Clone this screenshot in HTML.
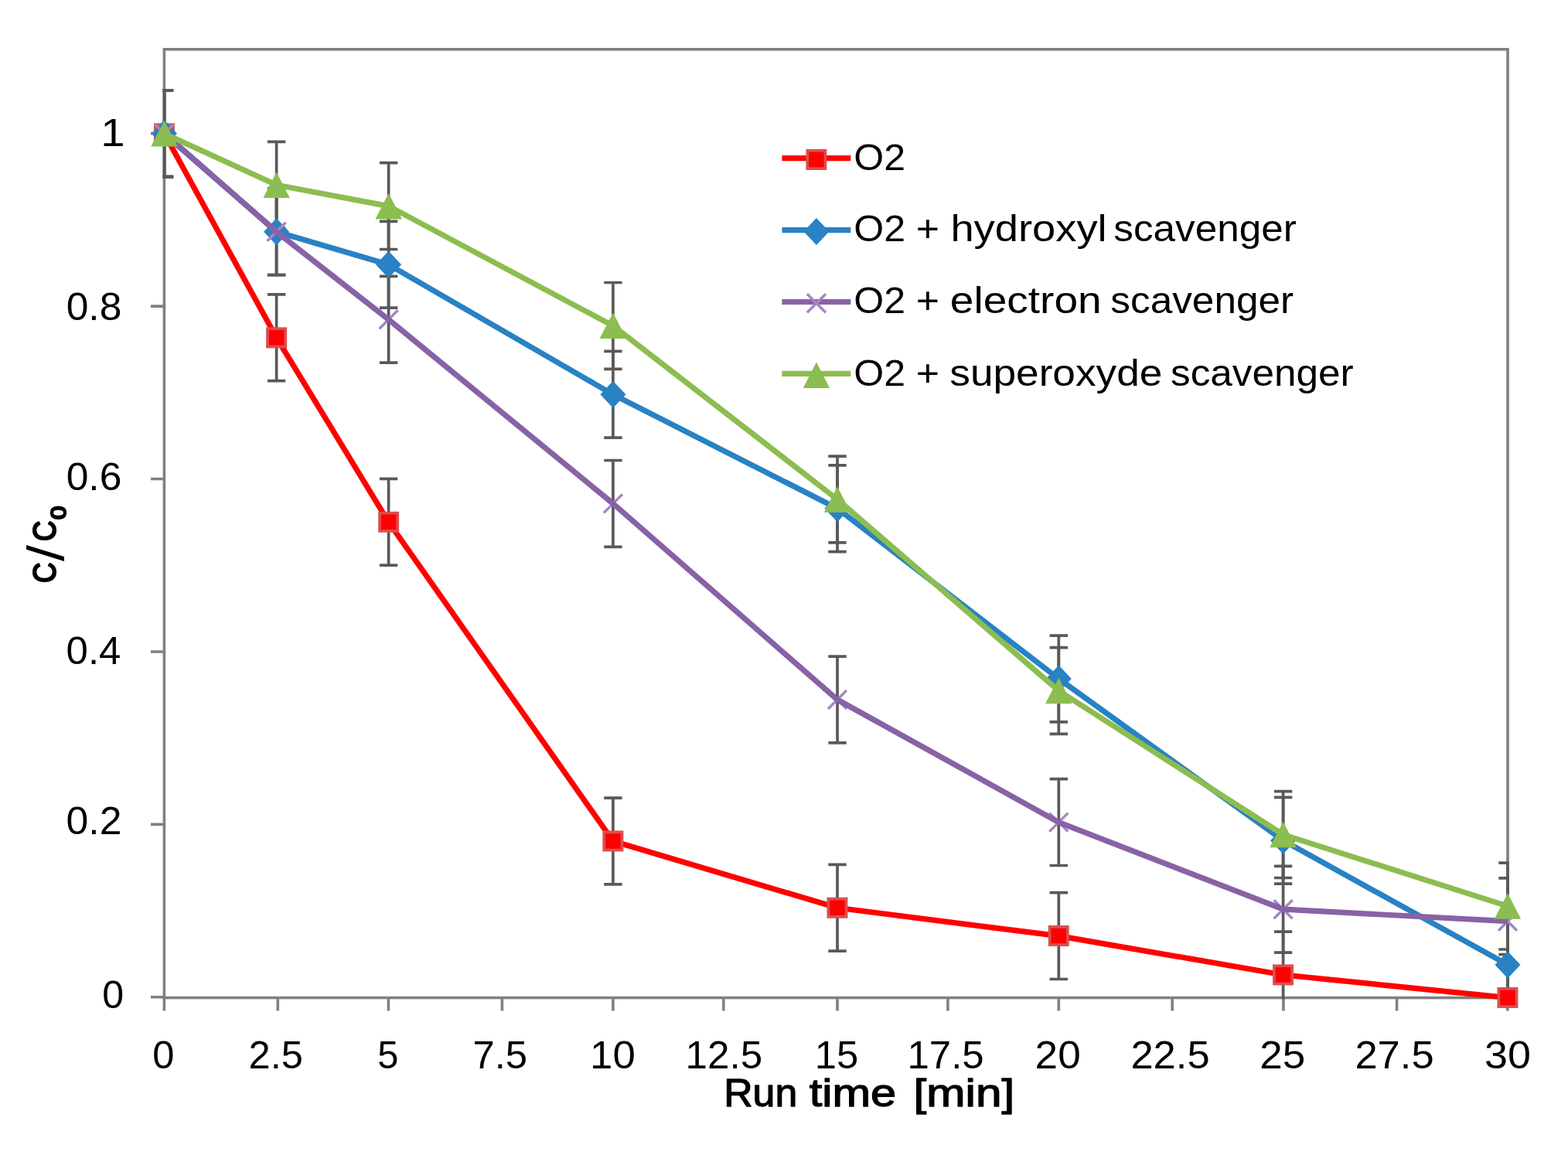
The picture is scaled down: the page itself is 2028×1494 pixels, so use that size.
<!DOCTYPE html><html><head><meta charset="utf-8"><title>C/C0 vs run time</title><style>html,body{margin:0;padding:0;background:#fff;overflow:hidden}svg{display:block}</style></head><body><svg width="2028" height="1494" viewBox="0 0 2028 1494">
<defs><clipPath id="pa"><rect x="210.6" y="62.0" width="1741.3" height="1230.4"/></clipPath></defs>
<rect width="2028" height="1494" fill="#fff"/>
<rect x="212.4" y="63.8" width="1737.6" height="1226.8" fill="none" stroke="#808080" stroke-width="3.6"/>
<path d="M212.4,1290.6V1307.5M359.3,1290.6V1307.5M502.4,1290.6V1307.5M649.4,1290.6V1307.5M792.9,1290.6V1307.5M935.8,1290.6V1307.5M1083.0,1290.6V1307.5M1225.9,1290.6V1307.5M1369.3,1290.6V1307.5M1516.2,1290.6V1307.5M1659.9,1290.6V1307.5M1806.6,1290.6V1307.5M1949.8,1290.6V1307.5M195,1289.8H212.4M195,1066.4H212.4M195,843.0H212.4M195,619.5H212.4M195,396.1H212.4M195,172.6H212.4" stroke="#808080" stroke-width="3.6" fill="none"/>
<path d="M212.5,116.9V228.7M200.8,116.9H224.2M200.8,228.7H224.2M357.6,380.9V492.7M345.9,380.9H369.3M345.9,492.7H369.3M502.6,619.4V731.2M490.9,619.4H514.3M490.9,731.2H514.3M792.9,1032.1V1143.9M781.2,1032.1H804.6M781.2,1143.9H804.6M1083.0,1118.4V1230.2M1071.3,1118.4H1094.7M1071.3,1230.2H1094.7M1369.3,1154.7V1266.5M1357.6,1154.7H1381.0M1357.6,1266.5H1381.0M1659.6,1205.1V1316.9M1647.9,1205.1H1671.3M1647.9,1316.9H1671.3M1950.0,1234.6V1346.4M1938.3,1234.6H1961.7M1938.3,1346.4H1961.7" stroke="#595959" stroke-width="3.7" fill="none" clip-path="url(#pa)"/>
<path d="M212.5,116.9V228.7M200.8,116.9H224.2M200.8,228.7H224.2M357.6,243.9V355.7M345.9,243.9H369.3M345.9,355.7H369.3M502.6,286.3V398.1M490.9,286.3H514.3M490.9,398.1H514.3M792.9,454.4V566.2M781.2,454.4H804.6M781.2,566.2H804.6M1083.0,601.8V713.6M1071.3,601.8H1094.7M1071.3,713.6H1094.7M1369.3,822.1V933.9M1357.6,822.1H1381.0M1357.6,933.9H1381.0M1659.6,1031.3V1143.1M1647.9,1031.3H1671.3M1647.9,1143.1H1671.3M1950.0,1192.0V1303.8M1938.3,1192.0H1961.7M1938.3,1303.8H1961.7" stroke="#595959" stroke-width="3.7" fill="none" clip-path="url(#pa)"/>
<path d="M212.5,116.9V228.7M200.8,116.9H224.2M200.8,228.7H224.2M357.6,243.9V355.7M345.9,243.9H369.3M345.9,355.7H369.3M502.6,357.4V469.2M490.9,357.4H514.3M490.9,469.2H514.3M792.9,595.5V707.3M781.2,595.5H804.6M781.2,707.3H804.6M1083.0,849.1V960.9M1071.3,849.1H1094.7M1071.3,960.9H1094.7M1369.3,1007.7V1119.5M1357.6,1007.7H1381.0M1357.6,1119.5H1381.0M1659.6,1120.3V1232.1M1647.9,1120.3H1671.3M1647.9,1232.1H1671.3M1950.0,1135.8V1247.6M1938.3,1135.8H1961.7M1938.3,1247.6H1961.7" stroke="#595959" stroke-width="3.7" fill="none" clip-path="url(#pa)"/>
<path d="M212.5,116.9V228.7M200.8,116.9H224.2M200.8,228.7H224.2M357.6,183.4V295.2M345.9,183.4H369.3M345.9,295.2H369.3M502.6,210.7V322.5M490.9,210.7H514.3M490.9,322.5H514.3M792.9,365.5V477.3M781.2,365.5H804.6M781.2,477.3H804.6M1083.0,590.1V701.9M1071.3,590.1H1094.7M1071.3,701.9H1094.7M1369.3,837.6V949.4M1357.6,837.6H1381.0M1357.6,949.4H1381.0M1659.6,1023.7V1135.5M1647.9,1023.7H1671.3M1647.9,1135.5H1671.3M1950.0,1116.2V1228.0M1938.3,1116.2H1961.7M1938.3,1228.0H1961.7" stroke="#595959" stroke-width="3.7" fill="none" clip-path="url(#pa)"/>
<polyline points="212.5,172.8 357.6,436.8 502.6,675.3 792.9,1088.0 1083.0,1174.3 1369.3,1210.6 1659.6,1261.0 1950.0,1290.5" fill="none" stroke="#FF0000" stroke-width="7.2" stroke-linejoin="round"/>
<rect x="200.8" y="161.2" width="23.3" height="23.3" fill="#FF0000" stroke="#D95050" stroke-width="3.7"/><rect x="346.0" y="425.2" width="23.3" height="23.3" fill="#FF0000" stroke="#D95050" stroke-width="3.7"/><rect x="491.0" y="663.6" width="23.3" height="23.3" fill="#FF0000" stroke="#D95050" stroke-width="3.7"/><rect x="781.2" y="1076.3" width="23.3" height="23.3" fill="#FF0000" stroke="#D95050" stroke-width="3.7"/><rect x="1071.3" y="1162.6" width="23.3" height="23.3" fill="#FF0000" stroke="#D95050" stroke-width="3.7"/><rect x="1357.6" y="1198.9" width="23.3" height="23.3" fill="#FF0000" stroke="#D95050" stroke-width="3.7"/><rect x="1647.9" y="1249.3" width="23.3" height="23.3" fill="#FF0000" stroke="#D95050" stroke-width="3.7"/><rect x="1938.3" y="1278.8" width="23.3" height="23.3" fill="#FF0000" stroke="#D95050" stroke-width="3.7"/>
<polyline points="212.5,172.8 357.6,299.8 502.6,342.2 792.9,510.3 1083.0,657.7 1369.3,878.0 1659.6,1087.2 1950.0,1247.9" fill="none" stroke="#2882C4" stroke-width="7.2" stroke-linejoin="round"/>
<polygon points="212.5,155.3 229.0,172.8 212.5,190.3 196.0,172.8" fill="#2882C4"/><polygon points="357.6,282.3 374.1,299.8 357.6,317.3 341.1,299.8" fill="#2882C4"/><polygon points="502.6,324.7 519.1,342.2 502.6,359.7 486.1,342.2" fill="#2882C4"/><polygon points="792.9,492.8 809.4,510.3 792.9,527.8 776.4,510.3" fill="#2882C4"/><polygon points="1083.0,640.2 1099.5,657.7 1083.0,675.2 1066.5,657.7" fill="#2882C4"/><polygon points="1369.3,860.5 1385.8,878.0 1369.3,895.5 1352.8,878.0" fill="#2882C4"/><polygon points="1659.6,1069.7 1676.1,1087.2 1659.6,1104.7 1643.1,1087.2" fill="#2882C4"/><polygon points="1950.0,1230.4 1966.5,1247.9 1950.0,1265.4 1933.5,1247.9" fill="#2882C4"/>
<path d="M200.5,160.8L224.5,184.8M224.5,160.8L200.5,184.8" stroke="#A487C0" stroke-width="3.4" fill="none"/><path d="M345.6,287.8L369.6,311.8M369.6,287.8L345.6,311.8" stroke="#A487C0" stroke-width="3.4" fill="none"/><path d="M490.6,401.3L514.6,425.3M514.6,401.3L490.6,425.3" stroke="#A487C0" stroke-width="3.4" fill="none"/><path d="M780.9,639.4L804.9,663.4M804.9,639.4L780.9,663.4" stroke="#A487C0" stroke-width="3.4" fill="none"/><path d="M1071.0,893.0L1095.0,917.0M1095.0,893.0L1071.0,917.0" stroke="#A487C0" stroke-width="3.4" fill="none"/><path d="M1357.3,1051.6L1381.3,1075.6M1381.3,1051.6L1357.3,1075.6" stroke="#A487C0" stroke-width="3.4" fill="none"/><path d="M1647.6,1164.2L1671.6,1188.2M1671.6,1164.2L1647.6,1188.2" stroke="#A487C0" stroke-width="3.4" fill="none"/><path d="M1938.0,1179.7L1962.0,1203.7M1962.0,1179.7L1938.0,1203.7" stroke="#A487C0" stroke-width="3.4" fill="none"/>
<polyline points="212.5,172.8 357.6,299.8 502.6,413.3 792.9,651.4 1083.0,905.0 1369.3,1063.6 1659.6,1176.2 1950.0,1191.7" fill="none" stroke="#8862A6" stroke-width="7.2" stroke-linejoin="round"/>
<polyline points="212.5,172.8 357.6,239.3 502.6,266.6 792.9,421.4 1083.0,646.0 1369.3,893.5 1659.6,1079.6 1950.0,1172.1" fill="none" stroke="#8CBD50" stroke-width="7.2" stroke-linejoin="round"/>
<polygon points="212.5,156.1 229.8,189.6 195.2,189.6" fill="#8CBD50"/><polygon points="357.6,222.6 374.9,256.1 340.4,256.1" fill="#8CBD50"/><polygon points="502.6,249.9 519.9,283.4 485.4,283.4" fill="#8CBD50"/><polygon points="792.9,404.6 810.1,438.1 775.6,438.1" fill="#8CBD50"/><polygon points="1083.0,629.2 1100.2,662.8 1065.8,662.8" fill="#8CBD50"/><polygon points="1369.3,876.8 1386.5,910.2 1352.0,910.2" fill="#8CBD50"/><polygon points="1659.6,1062.8 1676.8,1096.3 1642.3,1096.3" fill="#8CBD50"/><polygon points="1950.0,1155.3 1967.2,1188.8 1932.8,1188.8" fill="#8CBD50"/>
<text x="132.3" y="1303.8" font-family='"Liberation Sans", Arial, sans-serif' font-size="50" textLength="27.9" lengthAdjust="spacingAndGlyphs" fill="#000">0</text>
<text x="85.5" y="1079.2" font-family='"Liberation Sans", Arial, sans-serif' font-size="50" textLength="71.9" lengthAdjust="spacingAndGlyphs" fill="#000">0.2</text>
<text x="85.6" y="858.6" font-family='"Liberation Sans", Arial, sans-serif' font-size="50" textLength="70.8" lengthAdjust="spacingAndGlyphs" fill="#000">0.4</text>
<text x="85.7" y="634.1" font-family='"Liberation Sans", Arial, sans-serif' font-size="50" textLength="71.7" lengthAdjust="spacingAndGlyphs" fill="#000">0.6</text>
<text x="85.7" y="413.6" font-family='"Liberation Sans", Arial, sans-serif' font-size="50" textLength="71.7" lengthAdjust="spacingAndGlyphs" fill="#000">0.8</text>
<text x="130.2" y="189.0" font-family='"Liberation Sans", Arial, sans-serif' font-size="50" textLength="31.4" lengthAdjust="spacingAndGlyphs" fill="#000">1</text>
<text x="197.2" y="1381.5" font-family='"Liberation Sans", Arial, sans-serif' font-size="50" textLength="28.2" lengthAdjust="spacingAndGlyphs" fill="#000">0</text>
<text x="321.5" y="1381.5" font-family='"Liberation Sans", Arial, sans-serif' font-size="50" textLength="70.4" lengthAdjust="spacingAndGlyphs" fill="#000">2.5</text>
<text x="488.3" y="1381.5" font-family='"Liberation Sans", Arial, sans-serif' font-size="50" textLength="27.2" lengthAdjust="spacingAndGlyphs" fill="#000">5</text>
<text x="611.4" y="1381.5" font-family='"Liberation Sans", Arial, sans-serif' font-size="50" textLength="70.7" lengthAdjust="spacingAndGlyphs" fill="#000">7.5</text>
<text x="763.1" y="1381.5" font-family='"Liberation Sans", Arial, sans-serif' font-size="50" textLength="58.6" lengthAdjust="spacingAndGlyphs" fill="#000">10</text>
<text x="886.6" y="1381.5" font-family='"Liberation Sans", Arial, sans-serif' font-size="50" textLength="99.5" lengthAdjust="spacingAndGlyphs" fill="#000">12.5</text>
<text x="1053.7" y="1381.5" font-family='"Liberation Sans", Arial, sans-serif' font-size="50" textLength="56.5" lengthAdjust="spacingAndGlyphs" fill="#000">15</text>
<text x="1173.5" y="1381.5" font-family='"Liberation Sans", Arial, sans-serif' font-size="50" textLength="99.1" lengthAdjust="spacingAndGlyphs" fill="#000">17.5</text>
<text x="1338.6" y="1381.5" font-family='"Liberation Sans", Arial, sans-serif' font-size="50" textLength="59.1" lengthAdjust="spacingAndGlyphs" fill="#000">20</text>
<text x="1462.4" y="1381.5" font-family='"Liberation Sans", Arial, sans-serif' font-size="50" textLength="102.2" lengthAdjust="spacingAndGlyphs" fill="#000">22.5</text>
<text x="1629.2" y="1381.5" font-family='"Liberation Sans", Arial, sans-serif' font-size="50" textLength="59.0" lengthAdjust="spacingAndGlyphs" fill="#000">25</text>
<text x="1752.4" y="1381.5" font-family='"Liberation Sans", Arial, sans-serif' font-size="50" textLength="102.2" lengthAdjust="spacingAndGlyphs" fill="#000">27.5</text>
<text x="1920.1" y="1381.5" font-family='"Liberation Sans", Arial, sans-serif' font-size="50" textLength="59.9" lengthAdjust="spacingAndGlyphs" fill="#000">30</text>
<text x="936.2" y="1430.8" font-family='"Liberation Sans", Arial, sans-serif' font-size="50" textLength="95.0" lengthAdjust="spacingAndGlyphs" fill="#000" stroke="#000" stroke-width="1.3" stroke-linejoin="round">Run</text>
<text x="1046.8" y="1430.8" font-family='"Liberation Sans", Arial, sans-serif' font-size="50" textLength="112.4" lengthAdjust="spacingAndGlyphs" fill="#000" stroke="#000" stroke-width="1.3" stroke-linejoin="round">time</text>
<text x="1181.6" y="1430.8" font-family='"Liberation Sans", Arial, sans-serif' font-size="50" textLength="130.6" lengthAdjust="spacingAndGlyphs" fill="#000" stroke="#000" stroke-width="1.3" stroke-linejoin="round">[min]</text>
<g transform="translate(74.3,754.2) rotate(-90)" fill="#000"><text x="0.1" y="-2.2" font-family='"Liberation Sans", Arial, sans-serif' font-size="42.7" textLength="26.5" lengthAdjust="spacingAndGlyphs" stroke="#000" stroke-width="2.2" stroke-linejoin="round">C</text><text x="28.1" y="7.7" font-family='"Liberation Sans", Arial, sans-serif' font-size="67.1" textLength="21.1" lengthAdjust="spacingAndGlyphs">/</text><text x="54.3" y="-2.2" font-family='"Liberation Sans", Arial, sans-serif' font-size="42.7" textLength="26.5" lengthAdjust="spacingAndGlyphs" stroke="#000" stroke-width="2.2" stroke-linejoin="round">C</text><text x="82.1" y="10.3" font-family='"Liberation Sans", Arial, sans-serif' font-size="27.5" textLength="17.5" lengthAdjust="spacingAndGlyphs" stroke="#000" stroke-width="2.2" stroke-linejoin="round">0</text></g>
<path d="M1011.4,204.7H1100.3" stroke="#FF0000" stroke-width="7.2"/>
<rect x="1044.2" y="194.8" width="23.3" height="23.3" fill="#FF0000" stroke="#D95050" stroke-width="3.7"/>
<text x="1104.2" y="219.5" font-family='"Liberation Sans", Arial, sans-serif' font-size="49" textLength="66.8" lengthAdjust="spacingAndGlyphs" fill="#000">O2</text>
<path d="M1011.4,297.7H1100.3" stroke="#2882C4" stroke-width="7.2"/>
<polygon points="1055.9,282.0 1072.4,299.5 1055.9,317.0 1039.4,299.5" fill="#2882C4"/>
<text x="1104.2" y="312.2" font-family='"Liberation Sans", Arial, sans-serif' font-size="49" textLength="66.8" lengthAdjust="spacingAndGlyphs" fill="#000">O2</text>
<text x="1184.7" y="312.2" font-family='"Liberation Sans", Arial, sans-serif' font-size="49" textLength="30.3" lengthAdjust="spacingAndGlyphs" fill="#000">+</text>
<text x="1229.4" y="312.2" font-family='"Liberation Sans", Arial, sans-serif' font-size="49" textLength="202.3" lengthAdjust="spacingAndGlyphs" fill="#000">hydroxyl</text>
<text x="1440.3" y="312.2" font-family='"Liberation Sans", Arial, sans-serif' font-size="49" textLength="236.4" lengthAdjust="spacingAndGlyphs" fill="#000">scavenger</text>
<path d="M1011.4,390.5H1100.3" stroke="#8862A6" stroke-width="7.2"/>
<path d="M1043.9,380.3L1067.9,404.3M1067.9,380.3L1043.9,404.3" stroke="#A487C0" stroke-width="3.4" fill="none"/>
<text x="1104.2" y="405.3" font-family='"Liberation Sans", Arial, sans-serif' font-size="49" textLength="66.8" lengthAdjust="spacingAndGlyphs" fill="#000">O2</text>
<text x="1184.7" y="405.3" font-family='"Liberation Sans", Arial, sans-serif' font-size="49" textLength="30.3" lengthAdjust="spacingAndGlyphs" fill="#000">+</text>
<text x="1228.8" y="405.3" font-family='"Liberation Sans", Arial, sans-serif' font-size="49" textLength="195.9" lengthAdjust="spacingAndGlyphs" fill="#000">electron</text>
<text x="1436.3" y="405.3" font-family='"Liberation Sans", Arial, sans-serif' font-size="49" textLength="236.9" lengthAdjust="spacingAndGlyphs" fill="#000">scavenger</text>
<path d="M1011.4,483.4H1100.3" stroke="#8CBD50" stroke-width="7.2"/>
<polygon points="1055.9,468.4 1073.2,501.9 1038.7,501.9" fill="#8CBD50"/>
<text x="1104.2" y="498.5" font-family='"Liberation Sans", Arial, sans-serif' font-size="49" textLength="66.8" lengthAdjust="spacingAndGlyphs" fill="#000">O2</text>
<text x="1184.7" y="498.5" font-family='"Liberation Sans", Arial, sans-serif' font-size="49" textLength="30.3" lengthAdjust="spacingAndGlyphs" fill="#000">+</text>
<text x="1228.3" y="498.5" font-family='"Liberation Sans", Arial, sans-serif' font-size="49" textLength="275.0" lengthAdjust="spacingAndGlyphs" fill="#000">superoxyde</text>
<text x="1514.0" y="498.5" font-family='"Liberation Sans", Arial, sans-serif' font-size="49" textLength="236.7" lengthAdjust="spacingAndGlyphs" fill="#000">scavenger</text>
</svg></body></html>
